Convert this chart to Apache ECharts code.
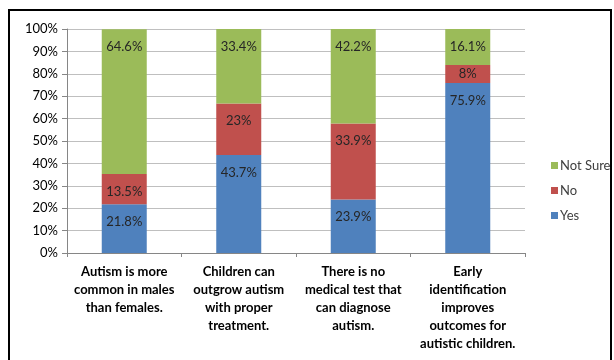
<!DOCTYPE html>
<html><head><meta charset="utf-8">
<script src="https://cdn.jsdelivr.net/npm/echarts@6/dist/echarts.min.js"></script>
<style>html,body{margin:0;padding:0;background:#fff}#c{width:614px;height:360px}</style>
</head><body><div id="c"></div>
<script>
const categories = [
  "Autism is more\ncommon in males\nthan females.",
  "Children can\noutgrow autism\nwith proper\ntreatment.",
  "There is no\nmedical test that\ncan diagnose\nautism.",
  "Early\nidentification\nimproves\noutcomes for\nautistic children."
];
const yesValues = [21.8, 43.7, 23.9, 75.9];
const noValues = [13.5, 23, 33.9, 8];
const notSureValues = [64.6, 33.4, 42.2, 16.1];
const seriesNames = ["Yes", "No", "Not Sure"];
const legendOrder = ["Not Sure", "No", "Yes"];

const font = "Lato, 'Open Sans', sans-serif";
const chart = echarts.init(document.getElementById('c'), null, {renderer: 'canvas'});
function mk(name, data, color) {
  return {
    name, type: 'bar', stack: 'total', barWidth: 45,
    data: data.map(v => v < 12 ? {value: v, label: {position: 'inside'}} : v),
    itemStyle: {color},
    label: {show: true, position: 'insideTop', distance: 11, formatter: p => p.value + '%', color: '#262626', fontSize: 13, fontFamily: font}
  };
}
chart.setOption({
  animation: false,
  graphic: [{type: 'rect', shape: {x: 9, y: 10, width: 602, height: 360}, style: {fill: 'none', stroke: '#000', lineWidth: 2}}],
  grid: {left: 67, top: 29, width: 458, height: 224},
  legend: {
    data: legendOrder, orient: 'vertical', left: 546, top: 154, itemGap: 12,
    itemWidth: 7, itemHeight: 7, icon: 'rect',
    textStyle: {fontSize: 13, color: '#404040', fontFamily: font, padding: [0, 0, 0, -3]}
  },
  xAxis: {
    type: 'category', data: categories,
    axisLine: {lineStyle: {color: '#868686'}},
    axisTick: {show: true, length: 4, lineStyle: {color: '#868686'}},
    axisLabel: {fontSize: 13, fontWeight: 'bold', color: '#000', fontFamily: font, lineHeight: 18, interval: 0, margin: 10}
  },
  yAxis: {
    type: 'value', min: 0, max: 100, interval: 10,
    axisLine: {show: true, lineStyle: {color: '#868686'}},
    axisTick: {show: true, length: 5, lineStyle: {color: '#868686'}},
    splitLine: {lineStyle: {color: '#BFBFBF'}},
    axisLabel: {formatter: '{value}%', fontSize: 13, color: '#000', fontFamily: font, margin: 9}
  },
  series: [
    mk(seriesNames[0], yesValues, '#4F81BD'),
    mk(seriesNames[1], noValues, '#C0504D'),
    mk(seriesNames[2], notSureValues, '#9BBB59')
  ]
});
</script></body></html>
